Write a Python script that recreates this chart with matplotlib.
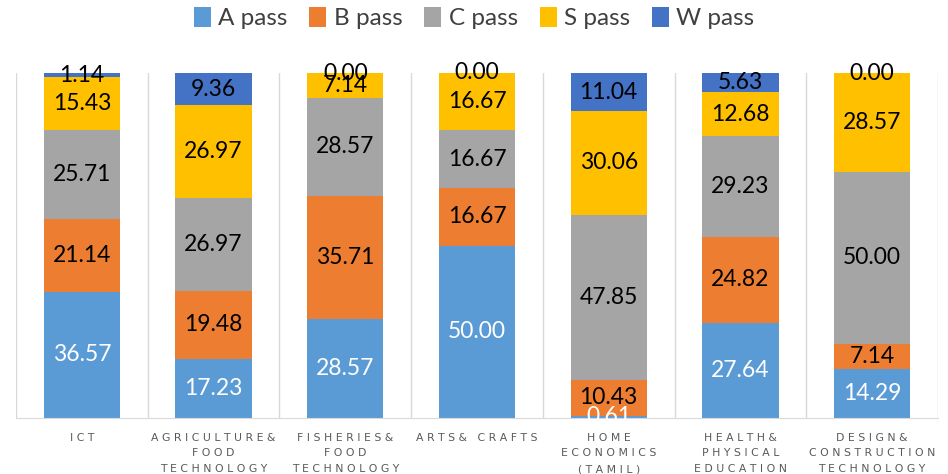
import matplotlib
matplotlib.use("Agg")
import matplotlib.pyplot as plt
import numpy as np

categories = [
    "ICT",
    "AGRICULTURE&\nFOOD\nTECHNOLOGY",
    "FISHERIES&\nFOOD\nTECHNOLOGY",
    "ARTS& CRAFTS",
    "HOME\nECONOMICS\n(TAMIL)",
    "HEALTH&\nPHYSICAL\nEDUCATION",
    "DESIGN&\nCONSTRUCTION\nTECHNOLOGY",
]
series_names = ["A pass", "B pass", "C pass", "S pass", "W pass"]
a_pass = [36.57, 17.23, 28.57, 50.00, 0.61, 27.64, 14.29]
b_pass = [21.14, 19.48, 35.71, 16.67, 10.43, 24.82, 7.14]
c_pass = [25.71, 26.97, 28.57, 16.67, 47.85, 29.23, 50.00]
s_pass = [15.43, 26.97, 7.14, 16.67, 30.06, 12.68, 28.57]
w_pass = [1.14, 9.36, 0.00, 0.00, 11.04, 5.63, 0.00]

series = [a_pass, b_pass, c_pass, s_pass, w_pass]
colors = ["#5B9BD5", "#ED7D31", "#A5A5A5", "#FFC000", "#4472C4"]
label_colors = ["white", "black", "black", "black", "black"]

plt.rcParams['font.family'] = ['Lato', 'DejaVu Sans']

fig = plt.figure(figsize=(9.48, 4.74), dpi=100)
ax = fig.add_axes([16 / 948, 1 - 418 / 474, (938 - 16) / 948, (418 - 73) / 474])

x = np.arange(len(categories))
bottom = np.zeros(len(categories))
for vals, name, col, lcol in zip(series, series_names, colors, label_colors):
    vals = np.array(vals)
    ax.bar(x, vals, width=0.58, bottom=bottom, color=col, label=name, zorder=2)
    for xi, b, v in zip(x, bottom, vals):
        ax.text(xi, b + v / 2, f"{v:.2f}", ha="center", va="center",
                fontsize=16.5, color=lcol, zorder=3, clip_on=False)
    bottom = bottom + vals

ax.set_xlim(-0.5, len(categories) - 0.5)
ax.set_ylim(0, 100)
for sp in ["top", "right", "left"]:
    ax.spines[sp].set_visible(False)
ax.spines["bottom"].set_color("#D9D9D9")
ax.set_yticks([])
for b in np.arange(-0.5, len(categories), 1.0):
    ax.axvline(b, color="#D9D9D9", lw=1, zorder=1)

def spaced(s):
    return "\n".join(" ".join(list(line)) for line in s.split("\n"))

ax.set_xticks(x)
ax.set_xticklabels([spaced(c) for c in categories], fontsize=7.8, color="#595959",
                   family="DejaVu Sans", linespacing=1.72, va="top")
ax.tick_params(axis="x", length=0, pad=10.5)

fig.legend(loc="center", bbox_to_anchor=(0.5, 1 - 18 / 474), ncol=5, frameon=False,
           fontsize=17.5, handlelength=0.7, handleheight=0.9, handletextpad=0.3,
           columnspacing=0.9, labelcolor="#404040")

fig.savefig("out.png", dpi=100)
